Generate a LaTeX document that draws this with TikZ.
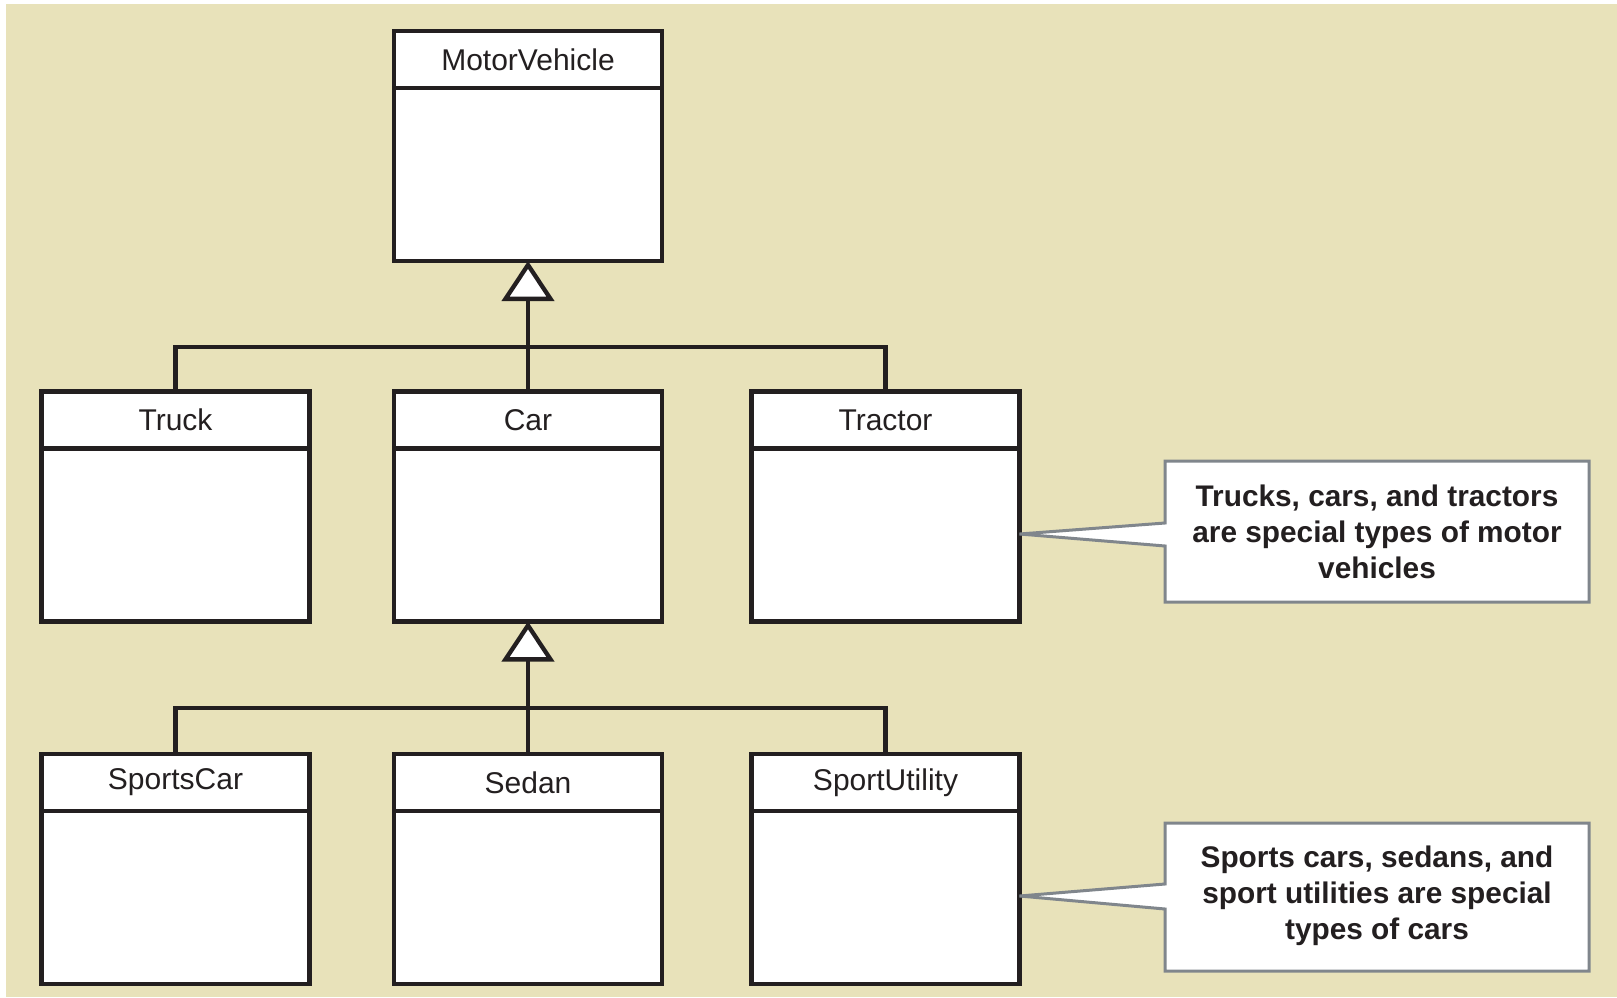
\documentclass[tikz,border=0pt]{standalone}
\usepackage{fontspec}
\setmainfont{Liberation Sans}
\usetikzlibrary{arrows.meta,calc}
\definecolor{bg}{HTML}{E8E2BA}
\definecolor{ink}{HTML}{231F20}
\definecolor{notegray}{HTML}{80868C}
\begin{document}
\begin{tikzpicture}[x=1pt,y=-1pt,
  cls/.style={draw=ink, line width=4.3pt, fill=white, minimum width=268pt,
    minimum height=230pt, inner sep=0pt, outer sep=0pt},
  hdr/.style={font=\fontsize{30}{35}\selectfont, text=ink, inner sep=0pt},
  divline/.style={draw=ink, line width=4.3pt},
  link/.style={draw=ink, line width=4.3pt},
  inh/.style={draw=ink, line width=4.3pt,
    -{Triangle[fill=white, length=40pt, width=52pt, line join=miter]}},
  noteframe/.style={draw=notegray, line width=3pt, fill=white, line join=miter},
  notetext/.style={font=\bfseries\fontsize{29.8}{36}\selectfont, text=ink,
    align=center, inner sep=0pt}]
\useasboundingbox (0,0) rectangle (1617,998);
\fill[bg] (6,4) rectangle (1617,997);

\newcommand\umlclass[4]{%
  \node[cls] (#1) at (#2,#3) {};
  \draw[divline] ($(#1.north west)+(0,57)$) -- ($(#1.north east)+(0,57)$);
  \node[hdr] (#1-t) at ($(#1.north)+(0,28.5)$) {#4};
}

\umlclass{mv}{528}{146}{MotorVehicle}
\umlclass{tk}{175.5}{506.5}{Truck}
\umlclass{car}{528}{506.5}{Car}
\umlclass{tr}{885.5}{506.5}{Tractor}
\umlclass{sc}{175.5}{869}{SportsCar}
\umlclass{sd}{528}{869}{Sedan}
\umlclass{su}{885.5}{869}{SportUtility}

% inheritance connectors
\coordinate (j1) at (528,347);
\coordinate (j2) at (528,708);
\draw[link] (tk.north) |- (j1);
\draw[link] (tr.north) |- (j1);
\draw[inh] (car.north) -- (mv.south);
\draw[link] (sc.north) |- (j2);
\draw[link] (su.north) |- (j2);
\draw[inh] (sd.north) -- (car.south);

% callout 1
\coordinate (p1) at ($(tr.east)+(0,27.5)$);
\draw[noteframe] (1165,461) -- (1589,461) -- (1589,602) -- (1165,602)
  -- (1165,546) -- (p1) -- (1165,523) -- cycle;
\node[notetext] (n1) at (1377,532) {Trucks, cars, and tractors\\are special types of motor\\vehicles};

% callout 2
\coordinate (p2) at ($(su.east)+(0,27)$);
\draw[noteframe] (1165,823) -- (1589,823) -- (1589,971) -- (1165,971)
  -- (1165,909) -- (p2) -- (1165,884) -- cycle;
\node[notetext] (n2) at (1377,896) {Sports cars, sedans, and\\sport utilities are special\\types of cars};
\end{tikzpicture}
\end{document}
